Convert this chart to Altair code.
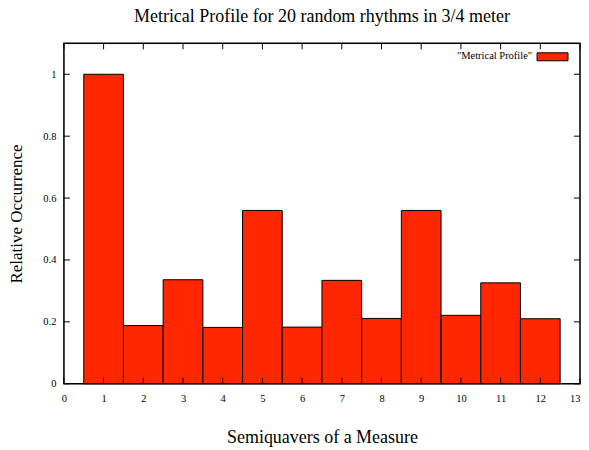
import altair as alt
import pandas as pd

semiquavers = [1, 2, 3, 4, 5, 6, 7, 8, 9, 10, 11, 12]
occurrence = [1.0, 0.188, 0.336, 0.182, 0.560, 0.183, 0.334, 0.211, 0.560, 0.221, 0.326, 0.210]
x_ticks = list(range(0, 14))
y_ticks = [0, 0.2, 0.4, 0.6, 0.8, 1.0]

df = pd.DataFrame({"x": semiquavers, "y": occurrence})
df["x0"] = df["x"] - 0.5
df["x1"] = df["x"] + 0.5
xt = pd.DataFrame({"t": x_ticks})
yt = pd.DataFrame({"t": y_ticks})

W, H = 517, 341
FONT = "Liberation Serif"
RED = "#ff2600"

xs = alt.Scale(domain=[0, 13], nice=False, zero=False)
ys = alt.Scale(domain=[0, 1.1], nice=False)

xaxis = alt.Axis(
    title="Semiquavers of a Measure", values=x_ticks, format="d", labelOverlap=False,
    labelBound=False, labelFlush=False,
    labelAlign=alt.ExprRef(expr="datum.value == 13 ? 'right' : 'center'"),
    ticks=False, domain=False, grid=False, labelFont=FONT, labelFontSize=10.5,
    labelPadding=10, labelColor="black", titleFont=FONT, titleFontSize=18,
    titleFontWeight="normal", titleColor="black", titleY=54, titleBaseline="middle")
yaxis = alt.Axis(
    title="Relative Occurrence", values=y_ticks, format="~g", labelOverlap=False,
    labelBound=False, labelFlush=False,
    ticks=False, domain=False, grid=False, labelFont=FONT, labelFontSize=10.5,
    labelPadding=8, labelColor="black", titleFont=FONT, titleFontSize=17,
    titleFontWeight="normal", titleColor="black", titleX=-47, titleY=H / 2,
    titleBaseline="middle", titleAngle=-90)

bars = alt.Chart(df).mark_rect(color=RED, stroke="black", strokeWidth=1).encode(
    x=alt.X("x0:Q", scale=xs, axis=xaxis),
    x2="x1:Q",
    y=alt.Y("y:Q", scale=ys, axis=yaxis),
    y2=alt.datum(0),
)

tick_len = 6
bottom_ticks = alt.Chart(xt).mark_rule(color="black").encode(
    x=alt.X("t:Q", scale=xs, axis=xaxis), y=alt.value(H), y2=alt.value(H - tick_len))
top_ticks = alt.Chart(xt).mark_rule(color="black").encode(
    x=alt.X("t:Q", scale=xs, axis=xaxis), y=alt.value(0), y2=alt.value(tick_len))
left_ticks = alt.Chart(yt).mark_rule(color="black").encode(
    y=alt.Y("t:Q", scale=ys, axis=yaxis), x=alt.value(0), x2=alt.value(tick_len))
right_ticks = alt.Chart(yt).mark_rule(color="black").encode(
    y=alt.Y("t:Q", scale=ys, axis=yaxis), x=alt.value(W), x2=alt.value(W - tick_len))

frame = alt.Chart(pd.DataFrame({"f": [0]})).mark_rect(
    fillOpacity=0, stroke="black", strokeWidth=1.5
).encode(x=alt.value(0), x2=alt.value(W), y=alt.value(0), y2=alt.value(H))

legend_text = alt.Chart(pd.DataFrame({"l": ['"Metrical Profile"']})).mark_text(
    font=FONT, fontSize=10.5, align="right", baseline="middle", color="black"
).encode(text="l:N", x=alt.value(469), y=alt.value(13))
legend_box = alt.Chart(pd.DataFrame({"l": ["Metrical Profile"]})).mark_rect(
    color=RED, stroke="black", strokeWidth=1
).encode(x=alt.value(474), x2=alt.value(505), y=alt.value(9.5), y2=alt.value(17.5))

chart = alt.layer(
    bars, bottom_ticks, top_ticks, left_ticks, right_ticks, frame, legend_text, legend_box
).properties(
    width=W, height=H,
    title=alt.TitleParams("Metrical Profile for 20 random rhythms in 3/4 meter",
                          font=FONT, fontSize=18, fontWeight="normal", color="black",
                          offset=17, anchor="middle"),
    autosize=alt.AutoSizeParams(type="none"),
    padding={"left": 56, "top": 35, "right": 1, "bottom": 64},
).configure_view(stroke=None).configure(background="white")

chart.save("out.html", embed_options={"renderer": "svg", "actions": False})
